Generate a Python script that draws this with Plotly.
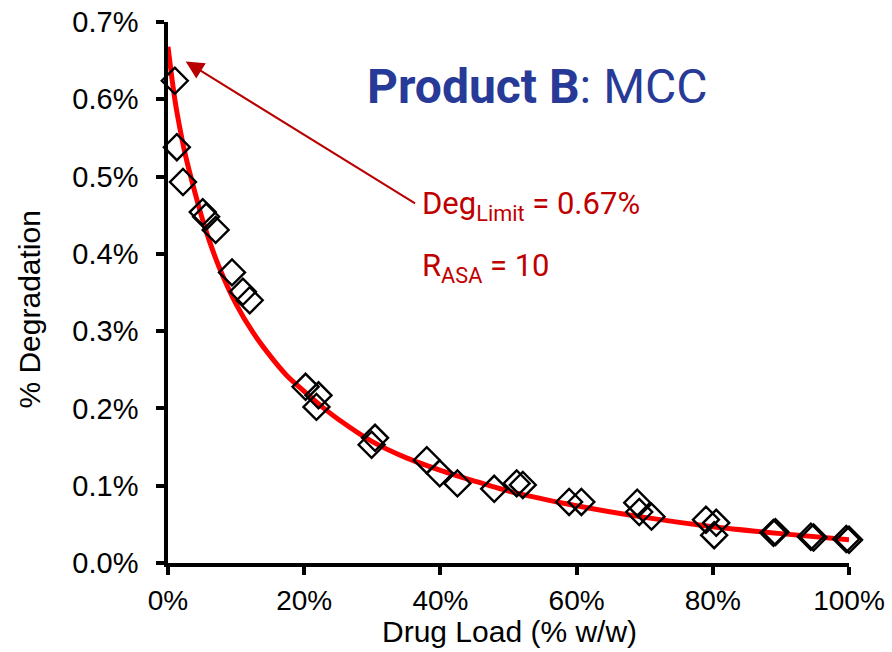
import plotly.graph_objects as go

# Measured data (Drug load %, degradation %)
drug_load = [1.0, 1.3, 2.2, 5.1, 5.6, 7.0, 9.4, 11.0, 12.0, 20.2, 22.1, 21.8, 30.4, 29.9,
             38.0, 39.9, 42.5, 47.9, 51.2, 52.1, 58.9, 60.7, 68.9, 69.2, 71.0,
             79.0, 80.5, 80.2, 88.9, 89.2, 94.4, 94.8, 99.6, 100.0]
degradation = [0.624, 0.538, 0.493, 0.454, 0.448, 0.431, 0.376, 0.351, 0.340, 0.228, 0.217, 0.202, 0.162, 0.153,
               0.133, 0.116, 0.103, 0.096, 0.103, 0.101, 0.079, 0.079, 0.078, 0.066, 0.060,
               0.056, 0.052, 0.036, 0.039, 0.040, 0.034, 0.033, 0.031, 0.030]

# Fitted curve
fit_x = [0, 0.5, 1, 1.5, 2.5, 4, 5.5, 7.5, 10, 12.5, 15, 17.5, 20, 22.5, 25, 30, 35, 40, 45, 50,
         60, 70, 80, 90, 100]
fit_y = [0.668, 0.632, 0.600, 0.574, 0.530, 0.478, 0.432, 0.383, 0.335, 0.298, 0.268, 0.242, 0.222,
         0.203, 0.186, 0.157, 0.136, 0.120, 0.106, 0.093, 0.074, 0.059, 0.047, 0.038, 0.030]

y_ticks = [0, 0.1, 0.2, 0.3, 0.4, 0.5, 0.6, 0.7]
y_tick_text = ["0.0%", "0.1%", "0.2%", "0.3%", "0.4%", "0.5%", "0.6%", "0.7%"]
x_ticks = [0, 20, 40, 60, 80, 100]
x_tick_text = ["0%", "20%", "40%", "60%", "80%", "100%"]

fig = go.Figure()
fig.add_trace(go.Scatter(x=fit_x, y=fit_y, mode="lines",
                         line=dict(color="#FF0000", width=5, shape="spline", smoothing=0.6),
                         hoverinfo="skip", showlegend=False, cliponaxis=False))
fig.add_trace(go.Scatter(x=drug_load, y=degradation, mode="markers",
                         marker=dict(symbol="diamond-open", size=20, color="black",
                                     line=dict(color="black", width=2.4)),
                         showlegend=False, cliponaxis=False))

red = "#C00000"
txt_font = "Roboto, Liberation Sans, sans-serif"
fig.add_annotation(x=2.6, y=0.649, ax=36.5, ay=0.464, xref="x", yref="y", axref="x", ayref="y",
                   showarrow=True, arrowhead=2, arrowsize=1.8, arrowwidth=2, arrowcolor="#B80000", text="")
fig.add_annotation(x=37.0, y=0.462, xref="x", yref="y", xanchor="left", yanchor="middle",
                   text="Deg<sub>Limit</sub> = 0.67%", showarrow=False,
                   font=dict(family=txt_font, size=31, color=red))
fig.add_annotation(x=37.0, y=0.382, xref="x", yref="y", xanchor="left", yanchor="middle",
                   text="R<sub>ASA</sub> = 10", showarrow=False,
                   font=dict(family=txt_font, size=31, color=red))
fig.add_annotation(x=54.3, y=0.617, xref="x", yref="y", xanchor="center", yanchor="middle",
                   text="<b>Product B</b>: MCC", showarrow=False,
                   font=dict(family=txt_font, size=48, color="#283A97"))

title_font = dict(family="Liberation Sans, Arial, sans-serif", size=30, color="black")
fig.add_annotation(x=-0.203, y=0.468, xref="paper", yref="paper", xanchor="center", yanchor="middle",
                   text="% Degradation", textangle=-90, showarrow=False, font=title_font)
fig.add_annotation(x=0.502, y=-0.126, xref="paper", yref="paper", xanchor="center", yanchor="middle",
                   text="Drug Load (% w/w)", showarrow=False, font=title_font)

y_font = dict(family="Liberation Sans, Arial, sans-serif", size=29, color="black")
x_font = dict(family="Liberation Sans, Arial, sans-serif", size=28, color="black")
fig.update_layout(
    width=892, height=652,
    margin=dict(l=168, r=43, t=22, b=89),
    paper_bgcolor="white", plot_bgcolor="white",
    xaxis=dict(range=[0, 100], tickvals=x_ticks, ticktext=x_tick_text, showgrid=False, zeroline=False,
               showline=True, linecolor="black", linewidth=3.5, ticks="outside", ticklen=8, tickwidth=3.5,
               tickcolor="black", tickfont=x_font, ticklabelstandoff=2, ticklabeloverflow="allow",
               automargin=False),
    yaxis=dict(range=[0, 0.7], tickvals=y_ticks, ticktext=y_tick_text, showgrid=False, zeroline=False,
               showline=True, linecolor="black", linewidth=3.5, ticks="outside", ticklen=8, tickwidth=3.5,
               tickcolor="black", tickfont=y_font, ticklabelstandoff=12, ticklabeloverflow="allow",
               automargin=False),
)
fig.write_html("out.html", config={"displayModeBar": False},
               post_script="document.body.style.margin='0';document.body.style.overflow='hidden';")
